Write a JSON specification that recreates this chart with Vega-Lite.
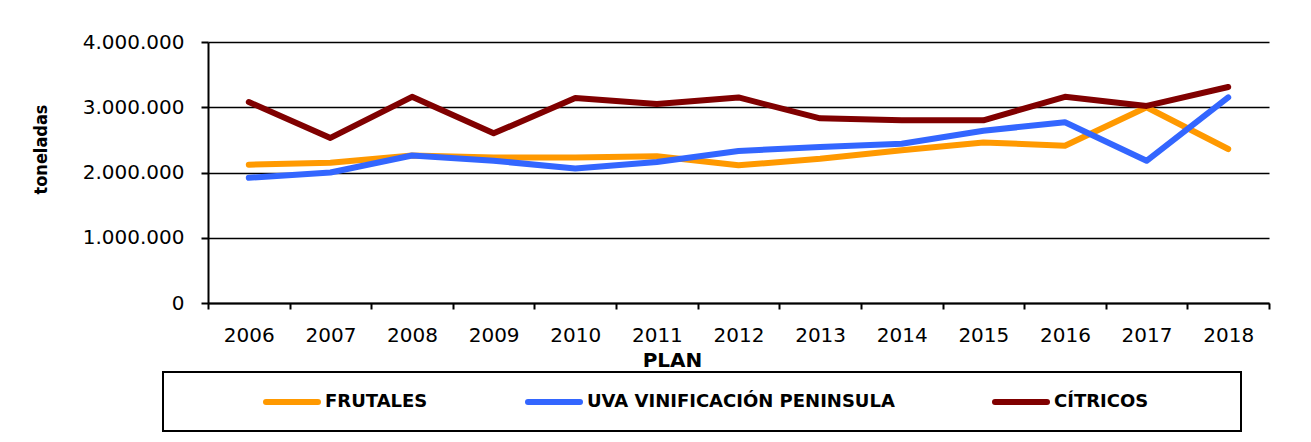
{
  "$schema": "https://vega.github.io/schema/vega-lite/v6.json",
  "width": 1061,
  "height": 261,
  "padding": {"left": 208, "top": 42, "right": 42, "bottom": 139},
  "autosize": {"type": "none"},
  "background": "white",
  "config": {
    "locale": {"number": {"decimal": ",", "thousands": ".", "grouping": [3], "currency": ["", " €"]}},
    "view": {"stroke": null},
    "font": "DejaVu Sans"
  },
  "data": {
    "values": [
      {"year": "2006", "serie": "FRUTALES", "value": 2120000},
      {"year": "2007", "serie": "FRUTALES", "value": 2150000},
      {"year": "2008", "serie": "FRUTALES", "value": 2260000},
      {"year": "2009", "serie": "FRUTALES", "value": 2230000},
      {"year": "2010", "serie": "FRUTALES", "value": 2230000},
      {"year": "2011", "serie": "FRUTALES", "value": 2250000},
      {"year": "2012", "serie": "FRUTALES", "value": 2110000},
      {"year": "2013", "serie": "FRUTALES", "value": 2210000},
      {"year": "2014", "serie": "FRUTALES", "value": 2340000},
      {"year": "2015", "serie": "FRUTALES", "value": 2460000},
      {"year": "2016", "serie": "FRUTALES", "value": 2410000},
      {"year": "2017", "serie": "FRUTALES", "value": 3000000},
      {"year": "2018", "serie": "FRUTALES", "value": 2360000},
      {"year": "2006", "serie": "UVA VINIFICACIÓN PENINSULA", "value": 1920000},
      {"year": "2007", "serie": "UVA VINIFICACIÓN PENINSULA", "value": 2000000},
      {"year": "2008", "serie": "UVA VINIFICACIÓN PENINSULA", "value": 2260000},
      {"year": "2009", "serie": "UVA VINIFICACIÓN PENINSULA", "value": 2180000},
      {"year": "2010", "serie": "UVA VINIFICACIÓN PENINSULA", "value": 2060000},
      {"year": "2011", "serie": "UVA VINIFICACIÓN PENINSULA", "value": 2160000},
      {"year": "2012", "serie": "UVA VINIFICACIÓN PENINSULA", "value": 2330000},
      {"year": "2013", "serie": "UVA VINIFICACIÓN PENINSULA", "value": 2390000},
      {"year": "2014", "serie": "UVA VINIFICACIÓN PENINSULA", "value": 2440000},
      {"year": "2015", "serie": "UVA VINIFICACIÓN PENINSULA", "value": 2640000},
      {"year": "2016", "serie": "UVA VINIFICACIÓN PENINSULA", "value": 2770000},
      {"year": "2017", "serie": "UVA VINIFICACIÓN PENINSULA", "value": 2180000},
      {"year": "2018", "serie": "UVA VINIFICACIÓN PENINSULA", "value": 3150000},
      {"year": "2006", "serie": "CÍTRICOS", "value": 3080000},
      {"year": "2007", "serie": "CÍTRICOS", "value": 2530000},
      {"year": "2008", "serie": "CÍTRICOS", "value": 3160000},
      {"year": "2009", "serie": "CÍTRICOS", "value": 2600000},
      {"year": "2010", "serie": "CÍTRICOS", "value": 3140000},
      {"year": "2011", "serie": "CÍTRICOS", "value": 3050000},
      {"year": "2012", "serie": "CÍTRICOS", "value": 3150000},
      {"year": "2013", "serie": "CÍTRICOS", "value": 2830000},
      {"year": "2014", "serie": "CÍTRICOS", "value": 2800000},
      {"year": "2015", "serie": "CÍTRICOS", "value": 2800000},
      {"year": "2016", "serie": "CÍTRICOS", "value": 3160000},
      {"year": "2017", "serie": "CÍTRICOS", "value": 3020000},
      {"year": "2018", "serie": "CÍTRICOS", "value": 3310000}
    ]
  },
  "mark": {"type": "line", "strokeWidth": 6, "strokeCap": "round", "strokeJoin": "round"},
  "encoding": {
    "x": {
      "field": "year",
      "type": "ordinal",
      "bandPosition": 0.5,
      "scale": {"type": "band", "paddingInner": 0, "paddingOuter": 0},
      "axis": {
        "title": "PLAN",
        "titleFont": "DejaVu Sans",
        "titleFontWeight": "bold",
        "titleFontSize": 20,
        "titleColor": "black",
        "titleX": 464,
        "titleY": 57,
        "titleBaseline": "middle",
        "titleAlign": "center",
        "labelAngle": 0,
        "labelFont": "DejaVu Sans",
        "labelFontSize": 20,
        "labelColor": "black",
        "labelBaseline": "top",
        "labelPadding": 16,
        "tickBand": "extent",
        "tickSize": 6,
        "tickColor": "black",
        "tickWidth": 2,
        "domainColor": "black",
        "domainWidth": 2,
        "grid": false
      }
    },
    "y": {
      "field": "value",
      "type": "quantitative",
      "scale": {"domain": [0, 4000000], "nice": false},
      "axis": {
        "title": "toneladas",
        "titleFont": "DejaVu Sans Condensed",
        "titleFontWeight": "bold",
        "titleFontSize": 18,
        "titleColor": "black",
        "titleAngle": 270,
        "titleX": -167,
        "titleY": 107,
        "titleBaseline": "middle",
        "titleAlign": "center",
        "values": [0, 1000000, 2000000, 3000000, 4000000],
        "format": ",d",
        "labelFont": "DejaVu Sans",
        "labelFontSize": 20,
        "labelColor": "black",
        "labelPadding": 17,
        "tickSize": 7,
        "tickColor": "black",
        "tickWidth": 2,
        "domainColor": "black",
        "domainWidth": 2,
        "grid": true,
        "gridColor": "black",
        "gridWidth": 1.5,
        "gridOpacity": 1
      }
    },
    "color": {
      "field": "serie",
      "type": "nominal",
      "scale": {
        "domain": ["FRUTALES", "UVA VINIFICACIÓN PENINSULA", "CÍTRICOS"],
        "range": ["#FF9900", "#3366FF", "#800000"]
      },
      "legend": {
        "orient": "none",
        "legendX": -45,
        "legendY": 330,
        "direction": "horizontal",
        "title": " ",
        "titleOrient": "left",
        "titlePadding": 80,
        "titleFontSize": 17,
        "padding": 17,
        "strokeColor": "black",
        "fillColor": "white",
        "columnPadding": 88,
        "symbolType": "M-2.6,0H2.6",
        "symbolSize": 400,
        "symbolOffset": 19,
        "symbolStrokeWidth": 6,
        "labelFont": "DejaVu Sans",
        "labelFontWeight": "bold",
        "labelFontSize": 18,
        "labelColor": "black",
        "labelOffset": 20,
        "labelLimit": 1000,
        "labelExpr": "datum.label == 'CÍTRICOS' ? datum.label + '\u00a0\u00a0\u00a0\u00a0\u00a0\u00a0\u00a0\u00a0\u00a0\u00a0\u00a0\u00a0\u200b' : datum.label",
        "encode": {
          "symbols": {"update": {"strokeCap": {"value": "round"}}},
          "legend": {"update": {"strokeWidth": {"value": 2}}}
        }
      }
    },
    "order": {"field": "serie"}
  }
}
